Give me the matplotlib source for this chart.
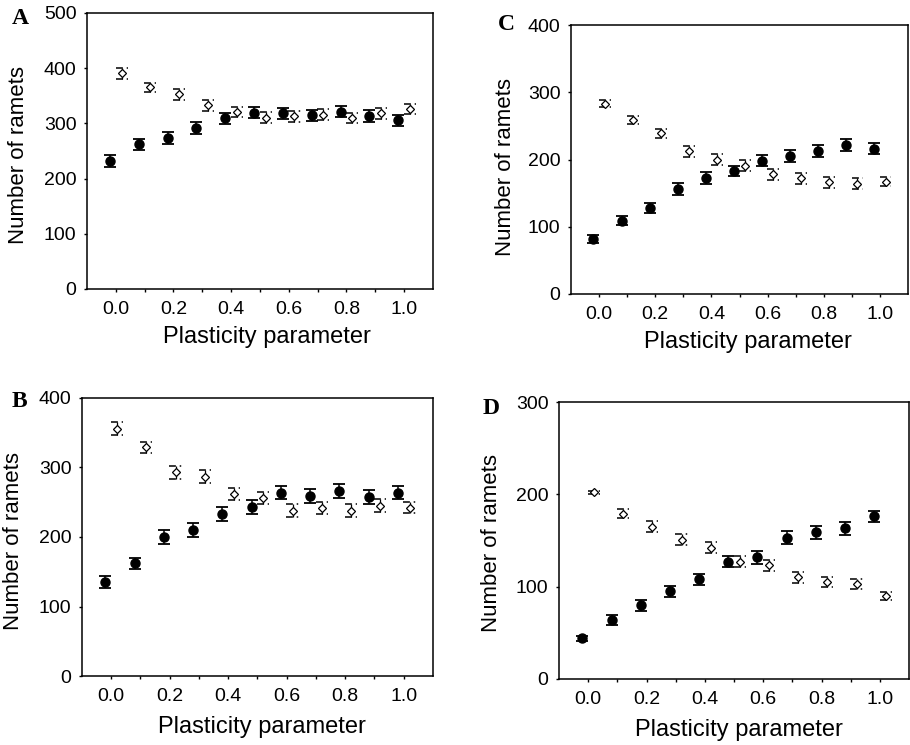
import numpy as np
import matplotlib
matplotlib.use("Agg")
import matplotlib.pyplot as plt

plt.rcParams["font.family"] = ["Liberation Sans", "DejaVu Sans"]

# Plasticity parameter values
plasticity = [0.0, 0.1, 0.2, 0.3, 0.4, 0.5, 0.6, 0.7, 0.8, 0.9, 1.0]

# Panel A
a_filled = [232, 262, 273, 292, 309, 319, 318, 315, 321, 313, 306]
a_filled_err = [11, 10, 11, 11, 10, 10, 10, 10, 10, 11, 10]
a_open = [391, 365, 353, 333, 320, 310, 313, 316, 309, 318, 326]
a_open_err = [10, 9, 10, 10, 9, 10, 10, 10, 9, 10, 9]

# Panel B
b_filled = [135, 162, 200, 210, 233, 243, 264, 259, 266, 257, 264]
b_filled_err = [9, 8, 10, 10, 10, 10, 10, 10, 10, 10, 9]
b_open = [356, 329, 293, 287, 262, 256, 238, 242, 238, 245, 242]
b_open_err = [9, 8, 9, 9, 9, 9, 9, 9, 9, 9, 8]

# Panel C
c_filled = [82, 109, 128, 156, 172, 183, 198, 205, 213, 221, 216]
c_filled_err = [6, 7, 8, 9, 9, 8, 8, 9, 9, 9, 8]
c_open = [283, 259, 239, 212, 200, 191, 178, 172, 166, 164, 167]
c_open_err = [5, 6, 7, 8, 8, 8, 8, 8, 8, 8, 7]

# Panel D
d_filled = [44, 64, 80, 95, 108, 127, 132, 153, 159, 163, 176]
d_filled_err = [3, 5, 6, 6, 6, 6, 7, 7, 7, 7, 6]
d_open = [202, 179, 165, 151, 142, 127, 123, 110, 105, 103, 90]
d_open_err = [2, 5, 6, 6, 6, 6, 6, 6, 5, 5, 4]

panels = [
    ("A", [0.0956, 0.6121, 0.380, 0.3705], 500, a_filled, a_filled_err, a_open, a_open_err,
     (12, 19), (-0.197, 0.486), (0.52, -0.174)),
    ("C", [0.6275, 0.6054, 0.3703, 0.361], 400, c_filled, c_filled_err, c_open, c_open_err,
     (498, 25), (-0.193, 0.472), (0.524, -0.178)),
    ("B", [0.0901, 0.0926, 0.3857, 0.3732], 400, b_filled, b_filled_err, b_open, b_open_err,
     (12, 402), (-0.194, 0.486), (0.514, -0.183)),
    ("D", [0.6143, 0.0886, 0.3846, 0.3718], 300, d_filled, d_filled_err, d_open, d_open_err,
     (483, 409), (-0.194, 0.49), (0.514, -0.184)),
]

fig = plt.figure(figsize=(9.1, 7.45), dpi=100)

x = np.array(plasticity)
offset = 0.02
capw = 0.021

for letter, rect, ymax, yf, ef, yo, eo, lpos, ylpos, xlpos in panels:
    ax = fig.add_axes(rect)
    # filled circles
    ax.errorbar(x - offset, yf, yerr=ef, fmt="o", color="black", ms=6.5,
                capsize=4.5, capthick=1.3, elinewidth=1.1, zorder=3)
    # open diamonds with dashed caps
    ax.vlines(x + offset, np.array(yo) - eo, np.array(yo) + eo, color="black", lw=0.9, zorder=2)
    for yy in (np.array(yo) - eo, np.array(yo) + eo):
        ax.hlines(yy, x + offset - capw, x + offset + capw, color="black", lw=1.1,
                  linestyles=(0, (4.5, 2.5, 1, 3)), zorder=2)
    ax.plot(x + offset, yo, "D", ms=4.2, mfc="white", mec="black", mew=0.9, ls="none", zorder=4)

    ax.set_xlim(-0.1, 1.1)
    ax.set_ylim(0, ymax)
    ax.set_xticks(np.arange(0, 1.01, 0.1))
    ax.set_xticklabels(["%.1f" % v if i % 2 == 0 else "" for i, v in enumerate(plasticity)])
    ax.set_yticks(np.arange(0, ymax + 1, 100))
    ax.tick_params(direction="out", length=2.5, width=1, labelsize=14, colors="black")
    ax.tick_params(axis="x", pad=6)
    ax.tick_params(axis="y", pad=5)
    for s in ax.spines.values():
        s.set_linewidth(1.1)
    ax.set_ylabel("Number of ramets", fontsize=16)
    ax.set_xlabel("Plasticity parameter", fontsize=17)
    ax.yaxis.set_label_coords(*ylpos)
    ax.xaxis.set_label_coords(*xlpos)
    ax.xaxis.label.set_va("center")
    ax.yaxis.label.set_va("center")
    fig.text(lpos[0] / 910, 1 - lpos[1] / 745, letter, family="Liberation Serif",
             weight="bold", fontsize=17, ha="left", va="center")

fig.savefig("out.png", dpi=100)
